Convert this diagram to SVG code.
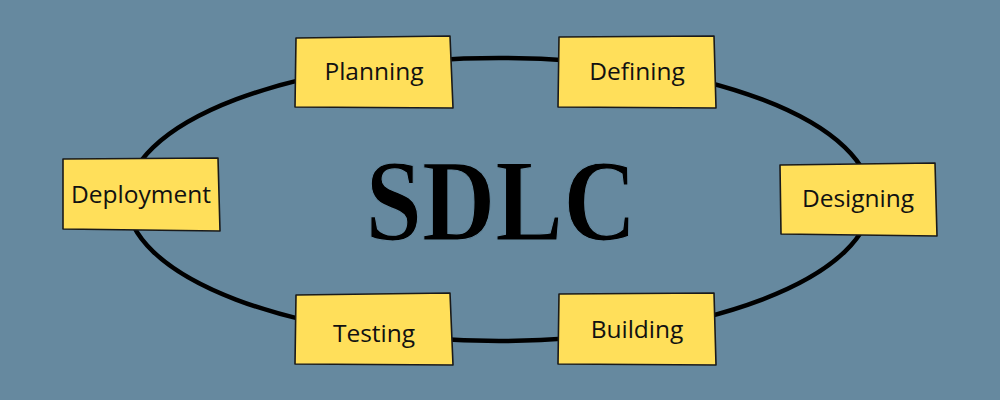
<svg xmlns="http://www.w3.org/2000/svg" width="1000" height="400" viewBox="0 0 1000 400">
<style>
.box{fill:#ffdf5a;stroke:#1a1a1a;stroke-width:1.6;stroke-linejoin:round}
.lbl{font-family:"Open Sans","Noto Sans",sans-serif;font-size:24.5px;fill:#111;text-anchor:middle}
</style>
<rect width="1000" height="400" fill="#66899f"/>
<g id="connectors">
<ellipse cx="499" cy="199.5" rx="372" ry="141.5" fill="none" stroke="#000" stroke-width="4.5"/>
</g>
<text x="501" y="240" font-family="'Liberation Serif',serif" font-weight="bold" font-size="116" text-anchor="middle" textLength="271" lengthAdjust="spacingAndGlyphs" fill="#000" stroke="#66899f" stroke-width="1.2">SDLC</text>
<g id="planning"><path class="box" d="M296,38 L450,36 L453,108 L295,107 Z"/><text class="lbl" x="374" y="80">Planning</text></g>
<g id="defining"><path class="box" d="M559,37 L714,36 L716,108 L558,107 Z"/><text class="lbl" x="637" y="80">Defining</text></g>
<g id="designing"><path class="box" d="M780,165 L935,163 L937,236 L781,234 Z"/><text class="lbl" x="858" y="207">Designing</text></g>
<g id="building"><path class="box" d="M559,294 L714,293 L716,365 L558,364 Z"/><text class="lbl" x="637" y="338">Building</text></g>
<g id="testing"><path class="box" d="M296,295 L450,293 L453,365 L295,364 Z"/><text class="lbl" x="374" y="342">Testing</text></g>
<g id="deployment"><path class="box" d="M63,159 L218,158 L220,231 L63,229 Z"/><text class="lbl" x="141" y="203">Deployment</text></g>
</svg>
